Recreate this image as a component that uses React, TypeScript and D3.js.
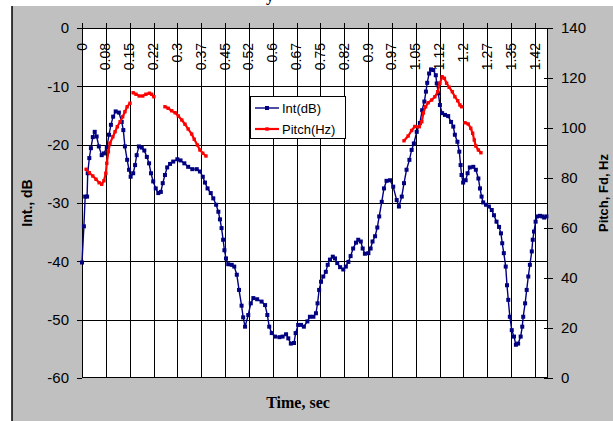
import React from 'react';
import * as d3 from 'd3';

// ---- data ----
const timeTickLabels = ["0", "0.08", "0.15", "0.22", "0.3", "0.37", "0.45", "0.52", "0.6", "0.67", "0.75", "0.82", "0.9", "0.97", "1.05", "1.12", "1.2", "1.27", "1.35", "1.42"];
const timeTickStep = 0.075;
const intTicks = [0, -10, -20, -30, -40, -50, -60];
const pitchTicks = [0, 20, 40, 60, 80, 100, 120, 140];

const intTime = [
  0.000, 0.006, 0.010, 0.016, 0.018, 0.023, 0.028, 0.034, 0.040, 0.046, 0.053, 0.062, 0.069, 0.078, 0.085, 0.091, 0.098, 0.106, 0.116, 0.125,
  0.130, 0.135, 0.142, 0.148, 0.153, 0.161, 0.167, 0.172, 0.179, 0.188, 0.196, 0.204, 0.211, 0.217, 0.224, 0.232, 0.240, 0.248, 0.254, 0.261,
  0.268, 0.277, 0.287, 0.300, 0.310, 0.322, 0.334, 0.347, 0.361, 0.371, 0.380, 0.387, 0.395, 0.405, 0.413, 0.422, 0.429, 0.434, 0.439, 0.444,
  0.448, 0.453, 0.460, 0.471, 0.479, 0.487, 0.494, 0.502, 0.507, 0.513, 0.523, 0.531, 0.539, 0.551, 0.565, 0.576, 0.583, 0.589, 0.597, 0.607,
  0.621, 0.631, 0.642, 0.649, 0.657, 0.667, 0.672, 0.680, 0.689, 0.698, 0.709, 0.717, 0.728, 0.736, 0.741, 0.746, 0.752, 0.759, 0.767, 0.773,
  0.780, 0.789, 0.796, 0.803, 0.812, 0.822, 0.830, 0.838, 0.845, 0.853, 0.862, 0.869, 0.877, 0.883, 0.890, 0.901, 0.908, 0.914, 0.922, 0.929,
  0.935, 0.943, 0.950, 0.958, 0.969, 0.979, 0.990, 0.997, 1.006, 1.013, 1.021, 1.030, 1.037, 1.044, 1.053, 1.063, 1.070, 1.077, 1.082, 1.086,
  1.092, 1.098, 1.105, 1.113, 1.116, 1.121, 1.126, 1.133, 1.142, 1.152, 1.161, 1.168, 1.173, 1.181, 1.187, 1.191, 1.194, 1.199, 1.207, 1.213,
  1.220, 1.231, 1.239, 1.247, 1.252, 1.257, 1.262, 1.271, 1.280, 1.289, 1.296, 1.304, 1.312, 1.318, 1.322, 1.327, 1.333, 1.337, 1.341, 1.346,
  1.352, 1.359, 1.365, 1.372, 1.380, 1.385, 1.388, 1.394, 1.399, 1.404, 1.409, 1.415, 1.418, 1.422, 1.427, 1.432, 1.441, 1.448, 1.454, 1.461
];
const intDb = [
  -40.2, -34.0, -28.9, -28.9, -24.9, -22.3, -20.6, -18.7, -17.8, -18.6, -20.3, -21.8, -21.5, -20.5, -18.3, -16.6, -15.2, -14.3, -14.5, -16.1,
  -17.5, -20.3, -22.6, -24.3, -25.5, -24.9, -23.5, -21.8, -20.3, -20.5, -21.0, -22.1, -23.2, -24.9, -26.3, -27.5, -28.3, -28.1, -26.6, -25.2,
  -23.9, -23.3, -22.9, -22.5, -22.7, -23.2, -23.8, -24.2, -24.2, -24.6, -25.5, -26.5, -27.5, -28.3, -29.2, -30.3, -31.5, -32.8, -34.3, -36.3,
  -38.1, -39.5, -40.5, -40.6, -40.9, -42.3, -44.9, -47.6, -49.6, -51.2, -49.2, -47.2, -46.3, -46.5, -46.9, -47.5, -49.2, -51.2, -52.3, -52.9,
  -53.0, -52.9, -52.5, -53.2, -54.1, -54.0, -52.3, -50.9, -50.9, -51.2, -50.3, -49.5, -49.5, -48.9, -47.2, -44.9, -43.5, -42.6, -41.8, -40.6,
  -39.7, -39.2, -39.5, -40.3, -41.0, -41.4, -40.9, -40.1, -39.1, -37.8, -36.8, -36.3, -36.6, -37.8, -38.7, -38.6, -37.8, -36.6, -35.7, -34.2,
  -32.3, -29.8, -27.5, -26.2, -26.1, -27.2, -29.5, -30.6, -28.9, -26.6, -24.3, -22.6, -20.9, -19.8, -17.8, -16.3, -14.1, -12.6, -10.9, -9.4,
  -7.8, -7.1, -7.2, -8.1, -9.5, -11.2, -13.2, -14.6, -14.9, -15.1, -16.1, -16.9, -18.3, -19.5, -21.2, -23.5, -25.2, -26.5, -26.1, -24.9,
  -23.9, -23.8, -24.3, -25.8, -27.5, -28.9, -29.9, -30.3, -30.6, -31.2, -32.1, -33.2, -34.1, -35.2, -36.9, -38.6, -40.9, -44.1, -46.6, -49.5,
  -51.8, -52.9, -54.3, -54.1, -52.9, -51.2, -49.5, -47.2, -44.9, -42.6, -40.6, -38.3, -36.3, -34.9, -33.2, -32.3, -32.2, -32.3, -32.5, -32.3
];

// pitch: null marks a gap (unvoiced part)
const pitchTime = [
  0.013, 0.023, 0.034, 0.044, 0.054, 0.062, 0.069, 0.075, 0.078, 0.083, 0.088, 0.097, 0.104, 0.111, 0.120, 0.128, 0.135, 0.142, 0.151,
  0.156,
  0.161, 0.170, 0.180, 0.191, 0.201, 0.212, 0.219, 0.226,
  0.240,
  0.261, 0.271, 0.282, 0.293, 0.303, 0.314, 0.324, 0.334, 0.345, 0.353, 0.363, 0.371, 0.380, 0.390,
  0.700,
  1.013, 1.026, 1.037, 1.047, 1.061, 1.069, 1.074, 1.081, 1.089, 1.100, 1.110, 1.119, 1.126, 1.133, 1.140, 1.147, 1.155, 1.165, 1.173, 1.182, 1.189, 1.194,
  1.200,
  1.205, 1.215, 1.223, 1.229, 1.234, 1.239, 1.247, 1.255
];
const pitchHz = [
  83.5, 82.1, 80.8, 79.5, 78.1, 77.5, 78.9, 81.9, 85.9, 90.5, 93.9, 96.5, 98.5, 100.5, 102.5, 104.5, 106.5, 108.5, 109.9,
  null,
  114.1, 113.5, 112.8, 112.8, 113.5, 113.9, 113.5, 112.5,
  null,
  108.5, 107.9, 106.9, 106.1, 104.8, 103.2, 101.5, 99.6, 97.6, 95.5, 93.2, 91.2, 89.9, 88.8,
  null,
  94.9, 96.8, 99.0, 100.6, 100.5, 102.5, 106.0, 108.5, 110.1, 111.2, 112.5, 114.5, 117.9, 120.5, 119.9, 117.9, 116.3, 114.5, 112.5, 110.9, 109.2, 108.5,
  null,
  102.1, 101.6, 99.9, 97.9, 95.2, 92.8, 91.2, 90.1
];

const legendLabels = ["Int(dB)", "Pitch(Hz)"];

// ---- layout ----
const W = 613, H = 421;
const PL = 82, PR = 548, PT = 28, PB = 378;
const NAVY = "#000080";
const RED = "#FF0000";
const SANS = "'Liberation Sans', Arial, sans-serif";
const SERIF = "'Liberation Serif', 'Times New Roman', serif";

export default function App() {
  const x = d3.scaleLinear().domain([0, 1.466]).range([PL, PR]);
  const yL = d3.scaleLinear().domain([-60, 0]).range([PB, PT]);
  const yR = d3.scaleLinear().domain([0, 140]).range([PB, PT]);

  const intPts: [number, number][] = intTime.map((t, i) => [t, intDb[i]]);
  const pitchPts: [number, number | null][] = pitchTime.map((t, i) => [t, pitchHz[i]]);

  const intLine = d3.line<[number, number]>().x(d => x(d[0])).y(d => yL(d[1]))(intPts) || "";
  const pitchLine = d3.line<[number, number | null]>()
    .defined(d => d[1] !== null)
    .x(d => x(d[0])).y(d => yR(d[1] as number))(pitchPts) || "";

  const tickTimes = timeTickLabels.map((_, i) => i * timeTickStep);

  return (
    <svg width={W} height={H} style={{ position: 'absolute', left: 0, top: 0 }} xmlns="http://www.w3.org/2000/svg">
      <rect x={0} y={0} width={W} height={H} fill="#ffffff" />
      <text x={274} y={0.5} fontFamily={SERIF} fontWeight="bold" fontSize={16} textAnchor="end" fill="#000">y</text>
      <rect x={12} y={6} width={W - 12} height={H - 6} fill="#C0C0C0" />
      <line x1={12} y1={6} x2={12} y2={H} stroke="#000" strokeWidth={1.5} />

      {/* plot area */}
      <rect x={PL} y={PT} width={PR - PL} height={PB - PT} fill="#ffffff" />

      {/* horizontal gridlines */}
      {intTicks.filter(v => v !== 0 && v !== -60).map(v => (
        <line key={'h' + v} x1={PL} x2={PR} y1={Math.round(yL(v)) + 0.5} y2={Math.round(yL(v)) + 0.5} stroke="#000" strokeWidth={1} />
      ))}
      {/* vertical gridlines + top ticks */}
      {tickTimes.map((t, i) => (
        <line key={'v' + i} x1={Math.round(x(t)) + 0.5} x2={Math.round(x(t)) + 0.5} y1={PT - 5} y2={PB} stroke="#000" strokeWidth={1} />
      ))}

      {/* plot border */}
      <rect x={PL + 0.5} y={PT + 0.5} width={PR - PL - 1} height={PB - PT - 1} fill="none" stroke="#000" strokeWidth={1} />

      {/* left axis ticks and labels */}
      {intTicks.map(v => (
        <g key={'l' + v}>
          <line x1={PL - 5} x2={PL} y1={Math.round(yL(v)) + 0.5} y2={Math.round(yL(v)) + 0.5} stroke="#000" />
          <text x={69} y={yL(v)} dy="0.36em" textAnchor="end" fontFamily={SANS} fontSize={15} fill="#000">{v}</text>
        </g>
      ))}
      {/* right axis ticks and labels */}
      {pitchTicks.map(v => (
        <g key={'r' + v}>
          <line x1={PR - 4} x2={PR + 5} y1={Math.round(yR(v)) + 0.5} y2={Math.round(yR(v)) + 0.5} stroke="#000" />
          <text x={561} y={yR(v)} dy="0.36em" textAnchor="start" fontFamily={SANS} fontSize={15} fill="#000">{v}</text>
        </g>
      ))}

      {/* top category labels (rotated) */}
      {tickTimes.map((t, i) => (
        <text key={'tl' + i} transform={`translate(${x(t) - 0.5},43) rotate(-90)`} dy="0.36em" textAnchor="end"
          fontFamily={SANS} fontSize={14} fill="#000">{timeTickLabels[i]}</text>
      ))}

      {/* Int series */}
      <path d={intLine} fill="none" stroke={NAVY} strokeWidth={1.4} />
      {intPts.map((d, i) => (
        <rect key={'im' + i} x={x(d[0]) - 2} y={yL(d[1]) - 2} width={4} height={4} fill={NAVY} />
      ))}

      {/* Pitch series */}
      <path d={pitchLine} fill="none" stroke={RED} strokeWidth={2.2} />
      {pitchPts.filter(d => d[1] !== null).map((d, i) => (
        <rect key={'pm' + i} x={x(d[0]) - 1.7} y={yR(d[1] as number) - 1.7} width={3.4} height={3.4} fill={RED} />
      ))}

      {/* legend */}
      <rect x={250.5} y={96.5} width={95} height={42} fill="#ffffff" stroke="#000" strokeWidth={1} />
      <line x1={255} x2={279} y1={108} y2={108} stroke={NAVY} strokeWidth={1.4} />
      <rect x={265} y={106} width={4} height={4} fill={NAVY} />
      <text x={282} y={108} dy="0.36em" fontFamily={SANS} fontSize={13} fill="#000">{legendLabels[0]}</text>
      <line x1={255} x2={279} y1={129} y2={129} stroke={RED} strokeWidth={2.2} />
      <rect x={265.3} y={127.3} width={3.4} height={3.4} fill={RED} />
      <text x={282} y={129} dy="0.36em" fontFamily={SANS} fontSize={13} fill="#000">{legendLabels[1]}</text>

      {/* axis titles */}
      <text transform="translate(27,203) rotate(-90)" dy="0.36em" textAnchor="middle" fontFamily={SANS} fontWeight="bold" fontSize={14} fill="#000">Int., dB</text>
      <text transform="translate(603,193) rotate(-90)" dy="0.36em" textAnchor="middle" fontFamily={SANS} fontWeight="bold" fontSize={13} fill="#000">Pitch, Fd, Hz</text>
      <text x={298} y={402} dy="0.36em" textAnchor="middle" fontFamily={SERIF} fontWeight="bold" fontSize={16} fill="#000">Time, sec</text>
    </svg>
  );
}
